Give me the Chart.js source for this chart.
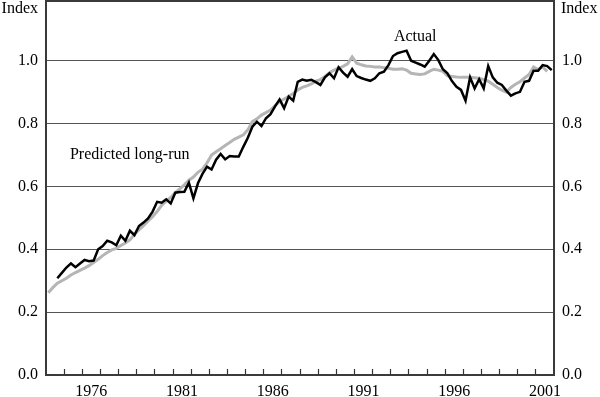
<!DOCTYPE html>
<html>
<head>
<meta charset="utf-8">
<script src="https://cdn.jsdelivr.net/npm/chart.js@4.4.1/dist/chart.umd.min.js"></script>
<style>
html,body{margin:0;padding:0;background:#fff;}
#wrap{width:600px;height:397px;position:relative;}
</style>
</head>
<body>
<div id="wrap"><canvas id="c" width="600" height="397"></canvas></div>
<script>
// Quarterly index values, first quarter = 1974 Q1
const startYear = 1974;
const endYear = 2002;
const actualStartQuarter = 2; // Actual series begins 1974 Q3
const actual = [
  0.308,0.325,0.342,0.355,0.343,0.355,0.366,0.362,0.364,0.400,
  0.410,0.427,0.422,0.413,0.443,0.427,0.459,0.445,0.474,0.485,
  0.498,0.520,0.551,0.548,0.559,0.546,0.580,0.582,0.583,0.612,
  0.562,0.610,0.640,0.663,0.654,0.685,0.703,0.686,0.697,0.695,
  0.695,0.726,0.755,0.790,0.806,0.792,0.817,0.830,0.855,0.877,
  0.849,0.886,0.873,0.933,0.940,0.936,0.939,0.932,0.923,0.947,
  0.960,0.944,0.979,0.962,0.949,0.973,0.951,0.945,0.940,0.936,
  0.944,0.960,0.965,0.986,1.015,1.024,1.028,1.032,1.000,0.994,
  0.988,0.981,1.000,1.021,1.002,0.973,0.960,0.935,0.917,0.907,
  0.873,0.947,0.912,0.941,0.912,0.983,0.947,0.930,0.923,0.905,
  0.889,0.896,0.901,0.933,0.936,0.968,0.968,0.986,0.983,0.970
];
const predictedStartQuarter = 0; // Predicted series begins 1974 Q1
const predicted = [
  0.262,0.278,0.292,0.300,0.308,0.318,0.326,0.333,0.340,0.348,
  0.358,0.368,0.380,0.390,0.398,0.403,0.412,0.420,0.430,0.448,
  0.462,0.475,0.490,0.504,0.520,0.540,0.553,0.565,0.580,0.592,
  0.605,0.620,0.630,0.645,0.655,0.675,0.700,0.710,0.720,0.730,
  0.740,0.750,0.757,0.764,0.780,0.806,0.815,0.827,0.835,0.843,
  0.857,0.870,0.878,0.886,0.896,0.907,0.915,0.920,0.926,0.935,
  0.940,0.950,0.962,0.970,0.976,0.982,0.990,1.012,0.992,0.987,
  0.983,0.982,0.980,0.980,0.978,0.976,0.973,0.973,0.974,0.970,
  0.960,0.958,0.956,0.958,0.966,0.973,0.970,0.966,0.952,0.950,
  0.948,0.947,0.947,0.947,0.946,0.944,0.940,0.935,0.925,0.915,
  0.906,0.900,0.915,0.925,0.933,0.945,0.956,0.980,0.972,0.980,
  0.966
];
const yTickValues = [0, 0.2, 0.4, 0.6, 0.8, 1.0];
const xLabelYears = [1976, 1981, 1986, 1991, 1996, 2001];
const axisTitle = 'Index';
const seriesNames = ['Actual', 'Predicted long-run'];

const FONT = {family: '"Liberation Serif", "Times New Roman", serif', size: 16};
const FRAME = {display: true, color: '#3a3a3a', width: 2};

function toPoints(arr, q0){
  return arr.map((v,i)=>({x: startYear + (q0 + i + 0.5)/4, y: v}));
}

// x ticks: year boundaries (tick marks only) + mid-year label positions
const xTickValues = [];
for (let yr = startYear + 1; yr < endYear; yr++) xTickValues.push(yr);
xLabelYears.forEach(y => xTickValues.push(y + 0.5));
xTickValues.sort((p, q) => p - q);

const textPlugin = {
  id: 'texts',
  afterDraw(chart){
    const ctx = chart.ctx;
    const a = chart.chartArea;
    const sx = chart.scales.x, sy = chart.scales.y;
    ctx.save();
    ctx.fillStyle = '#000';
    ctx.font = FONT.size + 'px ' + FONT.family;
    ctx.textBaseline = 'alphabetic';
    ctx.textAlign = 'right';
    ctx.fillText(axisTitle, a.left - 8, 13);
    ctx.textAlign = 'left';
    ctx.fillText(axisTitle, a.right + 7, 13);
    ctx.textBaseline = 'middle';
    ctx.fillText(seriesNames[1], sx.getPixelForValue(1975.32), sy.getPixelForValue(0.70));
    ctx.textAlign = 'center';
    ctx.fillText(seriesNames[0], sx.getPixelForValue(1994.35), sy.getPixelForValue(1.075));
    ctx.restore();
  }
};

const yAxisCommon = {
  type: 'linear', min: 0, max: 1.19,
  border: FRAME,
  ticks: {stepSize: 0.2, color: '#000', font: FONT, padding: 8,
          callback: v => Number(v).toFixed(1)},
  afterBuildTicks: s => { s.ticks = yTickValues.map(v => ({value: v})); },
  afterFit: s => { s.width = 46; s.paddingTop = 0; s.paddingBottom = 0; }
};

new Chart(document.getElementById('c'), {
  type: 'line',
  data: {
    datasets: [
      {label: seriesNames[0], data: toPoints(actual, actualStartQuarter),
       borderColor: '#000', borderWidth: 2.5, pointRadius: 0, tension: 0, yAxisID: 'y'},
      {label: seriesNames[1], data: toPoints(predicted, predictedStartQuarter),
       borderColor: '#b5b5b5', borderWidth: 3, pointRadius: 0, tension: 0, yAxisID: 'y'}
    ]
  },
  options: {
    responsive: false,
    animation: false,
    devicePixelRatio: 1,
    layout: {padding: 0},
    plugins: {legend: {display: false}, tooltip: {enabled: false}},
    scales: {
      x: {
        type: 'linear', min: startYear, max: endYear,
        grid: {display: true, drawOnChartArea: false, drawTicks: true, tickLength: -6, tickWidth: 1.2,
               tickColor: c => (c.tick && Number.isInteger(c.tick.value)) ? '#333' : 'rgba(0,0,0,0)'},
        border: FRAME,
        ticks: {color: '#000', font: FONT, padding: 13, autoSkip: false, maxRotation: 0,
                callback: v => Number.isInteger(v) ? '' : String(Math.floor(v))},
        afterBuildTicks: s => { s.ticks = xTickValues.map(v => ({value: v})); },
        afterFit: s => { s.height = 22; s.paddingLeft = 0; s.paddingRight = 0; }
      },
      xTop: {
        type: 'linear', position: 'top', min: startYear, max: endYear,
        grid: {display: false, drawTicks: false},
        border: FRAME,
        ticks: {display: false},
        afterBuildTicks: s => { s.ticks = []; },
        afterFit: s => { s.height = 1; s.paddingLeft = 0; s.paddingRight = 0; }
      },
      y: Object.assign({}, yAxisCommon, {
        position: 'left',
        grid: {color: '#555', lineWidth: 1, drawTicks: false}
      }),
      y2: Object.assign({}, yAxisCommon, {
        position: 'right',
        grid: {display: false, drawTicks: false}
      })
    }
  },
  plugins: [textPlugin]
});
</script>
</body>
</html>
